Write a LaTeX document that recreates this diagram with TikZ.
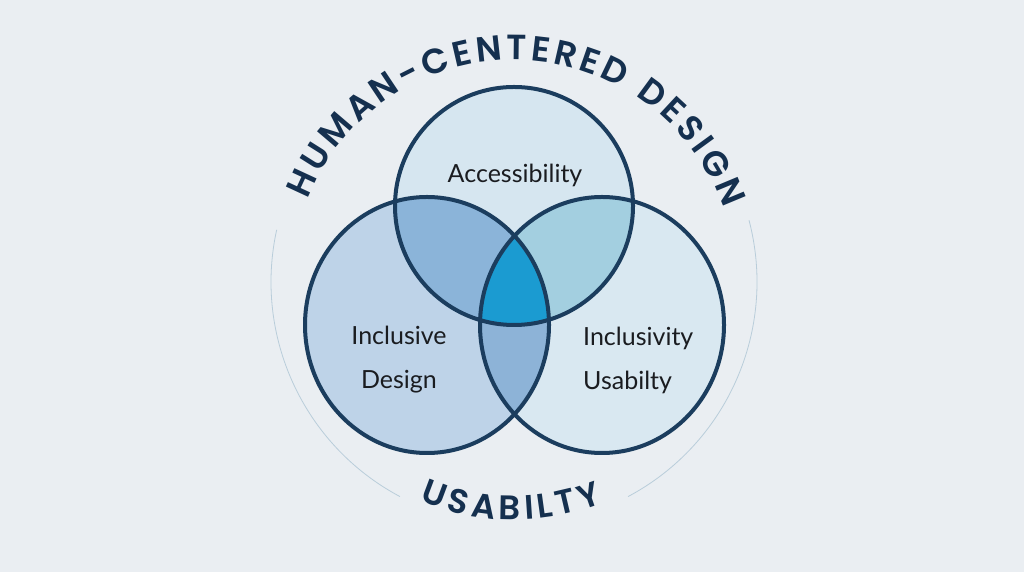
\documentclass[tikz,border=0pt]{standalone}
\usepackage{fontspec}
\setmainfont{Lato}
\newfontfamily\arcfont{Poppins SemiBold}
\usetikzlibrary{decorations.text}

\definecolor{bg}{HTML}{EAEEF2}
\definecolor{navy}{HTML}{1B3D5E}
\definecolor{title}{HTML}{15304F}
\definecolor{topfill}{HTML}{D6E6F0}
\definecolor{leftfill}{HTML}{BED3E8}
\definecolor{rightfill}{HTML}{D9E8F1}
\definecolor{tlfill}{HTML}{8BB4D9}
\definecolor{trfill}{HTML}{A3CFE0}
\definecolor{lrfill}{HTML}{8DB3D7}
\definecolor{midfill}{HTML}{1B9BD1}
\definecolor{ring}{HTML}{B9CDDA}
\definecolor{ink}{HTML}{1A1C20}

\begin{document}
\begin{tikzpicture}[x=1pt, y=1pt,
    set/.style={draw=navy, line width=4pt},
    side/.style={x radius=122pt, y radius=128pt},
    setlabel/.style={text=ink, font=\fontsize{25}{44}\selectfont, inner sep=0pt},
    ringarc/.style={draw=ring, line width=0.8pt}]
    \useasboundingbox (0,0) rectangle (1024,572);
    \fill[bg] (0,0) rectangle (1024,572);

    \coordinate (o) at (514,290);
    \coordinate (a) at (514,366);
    \coordinate (l) at (427,247);
    \coordinate (r) at (602,247);

    \fill[topfill]   (a) circle[radius=119pt];
    \fill[leftfill]  (l) ellipse[side];
    \fill[rightfill] (r) ellipse[side];
    \begin{scope}
        \clip (a) circle[radius=119pt];
        \fill[tlfill] (l) ellipse[side];
        \fill[trfill] (r) ellipse[side];
    \end{scope}
    \begin{scope}
        \clip (l) ellipse[side];
        \fill[lrfill] (r) ellipse[side];
        \clip (a) circle[radius=119pt];
        \fill[midfill] (r) ellipse[side];
    \end{scope}
    \draw[set] (a) circle[radius=119pt];
    \draw[set] (l) ellipse[side];
    \draw[set] (r) ellipse[side];

    \path[ringarc] (o) ++(14.7:243) arc[start angle=14.7, end angle=-62, radius=243pt];
    \path[ringarc] (o) ++(167.6:243) arc[start angle=167.6, end angle=242, radius=243pt];

    \path[decorate, decoration={text along path, text align={fit to path},
        text={|\arcfont\fontsize{35}{35}\selectfont\color{title}|HUMAN-CENTERED DESIGN}}]
        (o) ++(158.3:222) arc[start angle=158.3, end angle=19.3, radius=222pt];
    \path[decorate, decoration={text along path, text align={fit to path},
        text={|\arcfont\fontsize{34}{34}\selectfont\color{title}|USABILTY}}]
        (o) ++(-113.4:238) arc[start angle=-113.4, end angle=-68.2, radius=238pt];

    \node[setlabel]                          (acc)  at (515,397) {Accessibility};
    \node[setlabel, align=center]            (incd) at (399,212) {Inclusive\\Design};
    \node[setlabel, align=left, anchor=west] (incu) at (583,212) {Inclusivity\\Usabilty};
\end{tikzpicture}
\end{document}
